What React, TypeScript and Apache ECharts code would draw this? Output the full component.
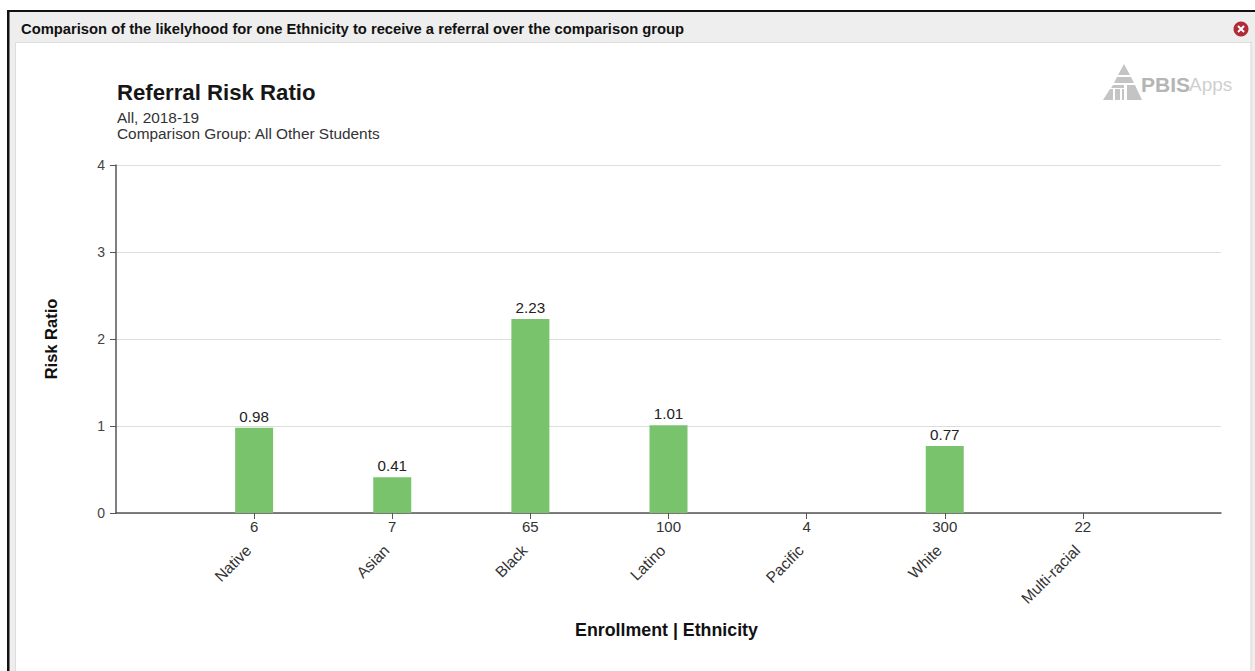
import React, { useEffect, useRef } from "react";
import * as echarts from "echarts";

const FONT = '"Liberation Sans", Arial, Helvetica, sans-serif';

const ethnicities = ["Native", "Asian", "Black", "Latino", "Pacific", "White", "Multi-racial"];
const enrollment = ["6", "7", "65", "100", "4", "300", "22"];
const riskRatios: (number | null)[] = [0.98, 0.41, 2.23, 1.01, null, 0.77, null];
const yTicks = [0, 1, 2, 3, 4];

const headerText = "Comparison of the likelyhood for one Ethnicity to receive a referral over the comparison group";
const chartTitle = "Referral Risk Ratio";
const chartSubtitle = "All, 2018-19\nComparison Group: All Other Students";
const yAxisName = "Risk Ratio";
const xAxisName = "Enrollment | Ethnicity";

// Empty slots at both ends leave a one-step gap between the axis ends and the first and last ticks.
const pad = <T,>(list: T[], blank: T): T[] => [blank, ...list, blank];
const hideEnds = (i: number) => i > 0 && i < ethnicities.length + 1;

const logoParts: number[][][] = [
  [[1124, 64], [1130, 75], [1118, 75]],
  [[1117, 77], [1131, 77], [1134, 83], [1114, 83]],
  [[1113, 85], [1124, 85], [1124, 88], [1111, 88]],
  [[1110, 89], [1113, 89], [1113, 100], [1103, 100]],
  [[1115, 89], [1120, 89], [1120, 100], [1115, 100]],
  [[1122, 89], [1124, 89], [1124, 100], [1122, 100]],
  [[1127, 85], [1135, 85], [1142, 100], [1127, 100]],
];

export default function App() {
  const ref = useRef<HTMLDivElement>(null);

  useEffect(() => {
    const chart = echarts.init(ref.current!, undefined, { renderer: "svg" });
    chart.setOption({
      animation: false,
      backgroundColor: "#ffffff",
      textStyle: { fontFamily: FONT },
      title: {
        text: chartTitle,
        subtext: chartSubtitle,
        left: 112,
        top: 76,
        itemGap: 6,
        textStyle: { fontFamily: FONT, fontSize: 22.2, fontWeight: "bold", color: "#161616" },
        subtextStyle: { fontFamily: FONT, fontSize: 15.4, lineHeight: 16, color: "#333333" },
      },
      grid: { left: 116, right: 34, top: 165, height: 348 },
      xAxis: [
        {
          type: "category",
          boundaryGap: false,
          data: pad(enrollment, ""),
          position: "bottom",
          axisLine: { lineStyle: { color: "#555555", width: 1.5 } },
          axisTick: { length: 6, interval: hideEnds, lineStyle: { color: "#555555" } },
          axisLabel: { interval: 0, margin: 6, fontFamily: FONT, fontSize: 15, color: "#333333" },
          name: xAxisName,
          nameLocation: "middle",
          nameGap: 108,
          nameTextStyle: { fontFamily: FONT, fontSize: 17.8, fontWeight: "bold", color: "#111111", padding: [0, 4, 0, 0] },
        },
        {
          type: "category",
          boundaryGap: false,
          data: pad(ethnicities, ""),
          position: "bottom",
          axisLine: { show: false },
          axisTick: { show: false },
          axisLabel: {
            interval: 0,
            rotate: 45,
            margin: 29,
            padding: [0, 8, 0, 0],
            fontFamily: FONT,
            fontSize: 15.6,
            color: "#333333",
          },
        },
      ],
      yAxis: {
        type: "value",
        min: 0,
        max: yTicks[yTicks.length - 1],
        interval: 1,
        axisLine: { show: true, lineStyle: { color: "#555555", width: 1.5 } },
        axisTick: { show: true, length: 6, lineStyle: { color: "#555555" } },
        axisLabel: { margin: 11, fontFamily: FONT, fontSize: 14, color: "#444444" },
        splitLine: { lineStyle: { color: "#dddddd" } },
        name: yAxisName,
        nameLocation: "middle",
        nameRotate: 90,
        nameGap: 57,
        nameTextStyle: { fontFamily: FONT, fontSize: 16.5, fontWeight: "bold", color: "#111111" },
      },
      series: [
        {
          type: "bar",
          data: pad(riskRatios, null),
          barWidth: 38,
          itemStyle: { color: "#79c36d" },
          label: {
            show: true,
            position: "top",
            distance: 4,
            fontFamily: FONT,
            fontSize: 15.2,
            color: "#222222",
            formatter: (p: { value: number }) => p.value.toFixed(2),
          },
        },
      ],
      graphic: [
        // Dialog frame drawn behind the plot: header band, side strips and dark border.
        { type: "rect", z: -10, shape: { x: 8, y: 11, width: 1247, height: 32 }, style: { fill: "#eeeeee" } },
        { type: "rect", z: -10, shape: { x: 8, y: 11, width: 7, height: 660 }, style: { fill: "#eeeeee" } },
        { type: "rect", z: -10, shape: { x: 1251, y: 11, width: 4, height: 660 }, style: { fill: "#eeeeee" } },
        { type: "line", z: -9, shape: { x1: 15, y1: 42.5, x2: 1251, y2: 42.5 }, style: { stroke: "#dddddd", lineWidth: 1 } },
        { type: "line", z: -9, shape: { x1: 15.5, y1: 42, x2: 15.5, y2: 671 }, style: { stroke: "#dddddd", lineWidth: 1 } },
        { type: "line", z: -9, shape: { x1: 1251, y1: 42, x2: 1251, y2: 671 }, style: { stroke: "#d5d5d5", lineWidth: 1 } },
        { type: "rect", z: -8, shape: { x: 7, y: 10, width: 1248, height: 2 }, style: { fill: "#111111" } },
        { type: "rect", z: -8, shape: { x: 7, y: 10, width: 2.5, height: 661 }, style: { fill: "#111111" } },
        {
          type: "text",
          x: 21,
          y: 29,
          style: { text: headerText, fontFamily: FONT, fontSize: 14.75, fontWeight: "bold", fill: "#111111", textVerticalAlign: "middle" },
        },
        // Close button
        { type: "circle", shape: { cx: 1241, cy: 29, r: 7.5 }, style: { fill: "#b02a37" } },
        { type: "line", shape: { x1: 1238, y1: 26, x2: 1244, y2: 32 }, style: { stroke: "#ffffff", lineWidth: 2 } },
        { type: "line", shape: { x1: 1244, y1: 26, x2: 1238, y2: 32 }, style: { stroke: "#ffffff", lineWidth: 2 } },
        // PBISApps mark
        ...logoParts.map((points) => ({ type: "polygon", shape: { points }, style: { fill: "#c4c4c4" } })),
        {
          type: "text",
          x: 1141,
          y: 84,
          style: { text: "PBIS", fontFamily: FONT, fontSize: 21, fontWeight: "bold", fill: "#b5b5b5", textVerticalAlign: "middle" },
        },
        {
          type: "text",
          x: 1189,
          y: 84,
          style: { text: "Apps", fontFamily: FONT, fontSize: 19, fill: "#cfcfcf", textVerticalAlign: "middle" },
        },
      ],
    });
    return () => chart.dispose();
  }, []);

  return <div ref={ref} style={{ position: "fixed", left: 0, top: 0, width: 1255, height: 671 }} />;
}
